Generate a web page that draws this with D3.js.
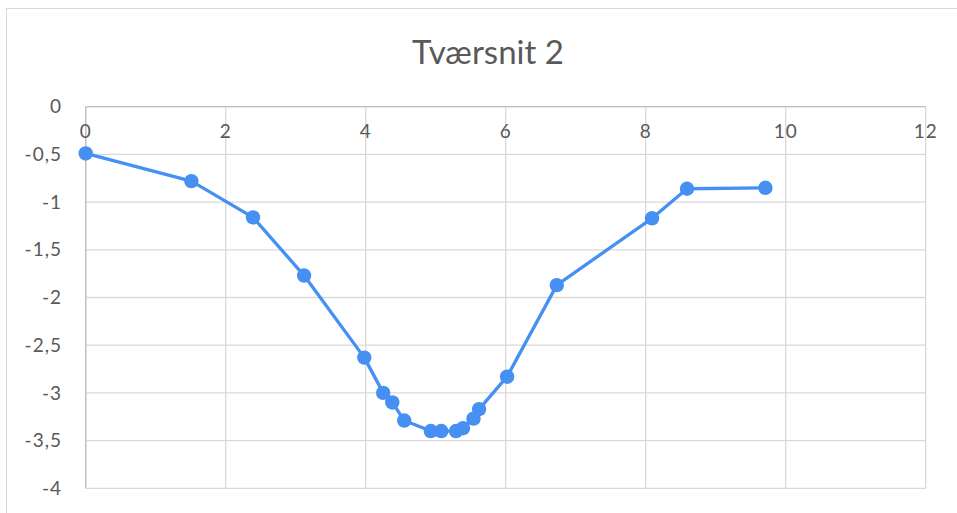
<!DOCTYPE html>
<html><head><meta charset="utf-8">
<script src="https://cdn.jsdelivr.net/npm/d3@7/dist/d3.min.js"></script>
<style>body{margin:0;background:#fff;}svg{display:block;}</style>
</head><body>
<svg id="c" width="957" height="513"></svg>
<script>
const title = "Tværsnit 2";
const xValues = [0, 1.51, 2.39, 3.12, 3.98, 4.25, 4.38, 4.55, 4.93, 5.08, 5.29, 5.39, 5.54, 5.62, 6.02, 6.73, 8.09, 8.59, 9.71];
const yValues = [-0.49, -0.78, -1.16, -1.77, -2.63, -3.00, -3.10, -3.29, -3.40, -3.40, -3.40, -3.37, -3.27, -3.17, -2.83, -1.87, -1.17, -0.86, -0.85];
const xTicks = [0, 2, 4, 6, 8, 10, 12];
const yTicks = [0, -0.5, -1, -1.5, -2, -2.5, -3, -3.5, -4];

const svg = d3.select("#c");
const font = "Lato, 'Open Sans', sans-serif";
const textColor = "#595959";
const blue = "#4690F3";

svg.append("rect").attr("x", 6.5).attr("y", 8.5).attr("width", 970).attr("height", 520)
  .attr("fill", "#fff").attr("stroke", "#d9d9d9").attr("stroke-width", 1);

const x = d3.scaleLinear().domain([0, 12]).range([85.7, 925.7]);
const y = d3.scaleLinear().domain([0, -4]).range([106.7, 488.3]);

const g = svg.append("g");
g.selectAll(".hg").data(yTicks).join("line")
  .attr("x1", x(0)).attr("x2", x(12)).attr("y1", d => y(d)).attr("y2", d => y(d))
  .attr("stroke", "#d9d9d9").attr("stroke-width", 1.3);
g.selectAll(".vg").data(xTicks).join("line")
  .attr("x1", d => x(d)).attr("x2", d => x(d)).attr("y1", y(0)).attr("y2", y(-4))
  .attr("stroke", "#d9d9d9").attr("stroke-width", 1.3);
g.append("line").attr("x1", x(0)).attr("x2", x(12)).attr("y1", y(0)).attr("y2", y(0))
  .attr("stroke", "#bfbfbf").attr("stroke-width", 1.3);
g.append("line").attr("x1", x(0)).attr("x2", x(0)).attr("y1", y(0)).attr("y2", y(-4))
  .attr("stroke", "#bfbfbf").attr("stroke-width", 1.3);

g.selectAll(".xl").data(xTicks).join("text")
  .attr("x", d => x(d)).attr("y", y(0) + 31)
  .attr("text-anchor", "middle").attr("font-family", font).attr("font-size", 19)
  .attr("letter-spacing", 1)
  .attr("fill", textColor).text(d => d);
const fmt = d => String(d).replace(".", ",");
g.selectAll(".yl").data(yTicks).join("text")
  .attr("x", 62).attr("y", d => y(d)).attr("dy", "0.35em")
  .attr("text-anchor", "end").attr("font-family", font).attr("font-size", 19)
  .attr("letter-spacing", 1)
  .attr("fill", textColor).text(d => fmt(d));

svg.append("text").attr("x", 488).attr("y", 64).attr("text-anchor", "middle")
  .attr("font-family", font).attr("font-size", 33).attr("fill", textColor).text(title);

const pts = xValues.map((v, i) => [v, yValues[i]]);
svg.append("path").datum(pts)
  .attr("d", d3.line().x(d => x(d[0])).y(d => y(d[1])))
  .attr("fill", "none").attr("stroke", blue).attr("stroke-width", 3.3).attr("stroke-linejoin", "round");
svg.selectAll(".pt").data(pts).join("circle")
  .attr("cx", d => x(d[0])).attr("cy", d => y(d[1])).attr("r", 7.2).attr("fill", blue);
</script>
</body></html>
